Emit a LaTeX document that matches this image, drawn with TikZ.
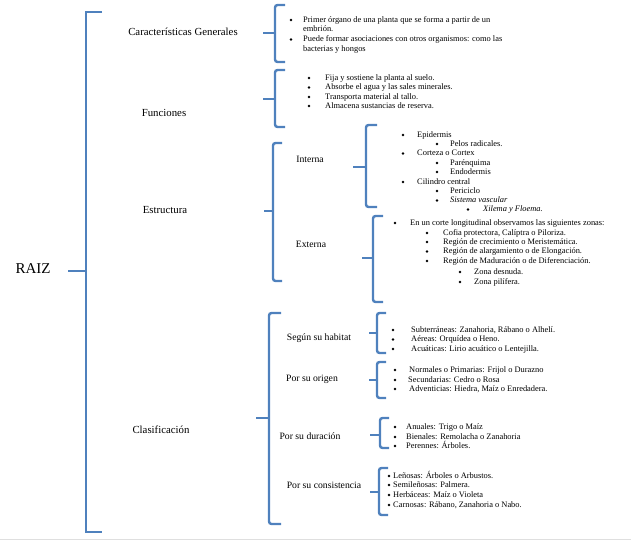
\documentclass[tikz,border=0pt]{standalone}
\usepackage{fontspec}
\setmainfont{Liberation Serif}
\usepackage{xcolor}
\usepackage{tikz}
\usetikzlibrary{positioning}

\definecolor{wordblue}{RGB}{79,129,189}

\tikzset{
  brk/.style={draw=wordblue, line width=2.4pt, rounded corners=2.5pt},
  mainbrk/.style={draw=wordblue, line width=2.8pt},
  root/.style={inner sep=0pt, font=\fontsize{15}{17}\selectfont},
  head/.style={inner sep=0pt, font=\fontsize{10.8}{12}\selectfont},
  subhead/.style={inner sep=0pt, font=\fontsize{9.7}{11}\selectfont},
  itm/.style={anchor=mid west, inner sep=0pt, font=\fontsize{8.4}{9}\selectfont},
  bul/.style={circle, fill=black, inner sep=0pt, minimum size=2.6pt},
}

% bracket: x, top, bottom, stub y, stub start, tip x
\newcommand{\bkt}[6]{%
  \draw[brk] (#6,#2) -- (#1,#2) -- (#1,#3) -- (#6,#3);
  \draw[brk] (#5,#4) -- (#1,#4);}

% list item: name, bullet x, text x, y, text
\newcommand{\bitem}[5]{%
  \node[bul] (#1b) at (#2,#4) {};
  \node[itm] (#1) at (#3,#4) {#5};}

\begin{document}
\begin{tikzpicture}[x=1pt, y=-1pt]
\useasboundingbox (0,0) rectangle (631,543);
\draw[gray!25, line width=1pt] (0,539.5) -- (631,539.5);

% Root and main bracket
\node[root] (raiz) at (33,269) {RAIZ};
\draw[mainbrk] (102,12) -- (86,12) -- (86,532) -- (102,532);
\draw[mainbrk] (68,271) -- (86,271);

% First level
\node[head] (cg) at (183,32) {Características Generales};
\node[head] (fun) at (164,113) {Funciones};
\node[head] (est) at (165,210) {Estructura};
\node[head] (cla) at (161,430) {Clasificación};

\bkt{275}{5}{62}{33}{263}{285}
\bkt{275}{70}{127}{99}{263}{285}
\bkt{273}{143}{281}{211}{264}{282}
\bkt{269}{313}{524}{418}{256}{281}

% Caracteristicas generales
\bitem{cg1}{291}{303}{20}{Primer órgano de una planta que se forma a partir de un}
\node[itm] (cg1c) at (303,29.5) {embrión.};
\bitem{cg2}{291}{303}{39.5}{Puede formar asociaciones con otros organismos: como las}
\node[itm] (cg2c) at (303,49) {bacterias y hongos};

% Funciones
\bitem{fun1}{309}{325}{78}{Fija y sostiene la planta al suelo.}
\bitem{fun2}{309}{325}{87.5}{Absorbe el agua y las sales minerales.}
\bitem{fun3}{309}{325}{97}{Transporta material al tallo.}
\bitem{fun4}{309}{325}{106}{Almacena sustancias de reserva.}

% Estructura
\node[subhead] (int) at (310,159) {Interna};
\node[subhead] (ext) at (311,244) {Externa};
\bkt{366}{125}{207}{167}{353}{377}
\bkt{373}{216}{302}{258}{362}{383}

\bitem{in1}{403}{417}{135}{Epidermis}
\bitem{in2}{437}{450}{144}{Pelos radicales.}
\bitem{in3}{403}{417}{153.5}{Corteza o Cortex}
\bitem{in4}{437}{450}{163}{Parénquima}
\bitem{in5}{437}{450}{172}{Endodermis}
\bitem{in6}{403}{417}{182}{Cilindro central}
\bitem{in7}{437}{450}{191}{Periciclo}
\bitem{in8}{437}{450}{200.5}{\textit{Sistema vascular}}
\bitem{in9}{468}{483}{209.5}{\textit{Xilema y Floema.}}

\bitem{ex1}{395}{410}{223}{En un corte longitudinal observamos las siguientes zonas:}
\bitem{ex2}{427}{443}{233}{Cofia protectora, Calíptra o Piloriza.}
\bitem{ex3}{427}{443}{242}{Región de crecimiento o Meristemática.}
\bitem{ex4}{427}{443}{251.5}{Región de alargamiento o de Elongación.}
\bitem{ex5}{427}{443}{261}{Región de Maduración o de Diferenciación.}
\bitem{ex6}{460}{474}{272}{Zona desnuda.}
\bitem{ex7}{460}{474}{282}{Zona pilífera.}

% Clasificacion
\node[subhead] (hab) at (319,338) {Según su habitat};
\node[subhead] (ori) at (312,379) {Por su origen};
\node[subhead] (dur) at (310,436) {Por su duración};
\node[subhead] (con) at (324,485) {Por su consistencia};
\bkt{377}{313}{353}{333}{369}{386}
\bkt{377}{362}{398}{380}{369}{386}
\bkt{380}{418}{448}{435}{370}{389}
\bkt{379}{468}{515}{492}{370}{388}

\bitem{hab1}{393}{411}{330}{Subterráneas: Zanahoria, Rábano o Alhelí.}
\bitem{hab2}{393}{411}{339.5}{Aéreas: Orquídea o Heno.}
\bitem{hab3}{393}{411}{349}{Acuáticas: Lirio acuático o Lentejilla.}

\bitem{ori1}{395}{409}{370}{Normales o Primarias: Frijol o Durazno}
\bitem{ori2}{395}{408}{380}{Secundarias: Cedro o Rosa}
\bitem{ori3}{395}{409}{389}{Adventicias: Hiedra, Maíz o Enredadera.}

\bitem{dur1}{395}{406}{427}{Anuales: Trigo o Maíz}
\bitem{dur2}{395}{406}{437}{Bienales: Remolacha o Zanahoria}
\bitem{dur3}{395}{406}{446}{Perennes: Árboles.}

\bitem{con1}{389}{393}{476}{Leñosas: Árboles o Arbustos.}
\bitem{con2}{389}{393}{485}{Semileñosas: Palmera.}
\bitem{con3}{389}{393}{495}{Herbáceas: Maíz o Violeta}
\bitem{con4}{389}{393}{505}{Carnosas: Rábano, Zanahoria o Nabo.}
\end{tikzpicture}
\end{document}
